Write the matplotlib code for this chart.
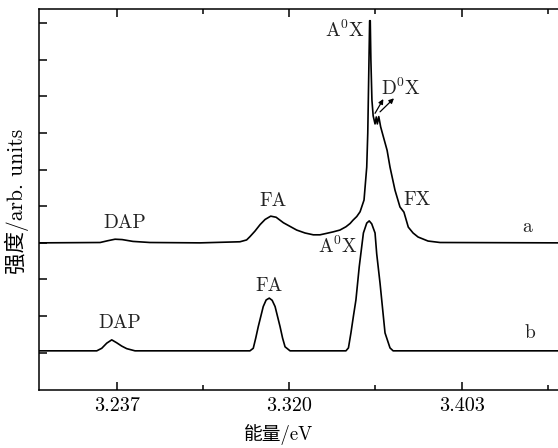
import matplotlib.pyplot as plt
import numpy as np

plt.rcParams['font.family'] = ['cmr10', 'Noto Sans CJK SC']
plt.rcParams['mathtext.fontset'] = 'cm'
plt.rcParams['font.size'] = 14
plt.rcParams['axes.formatter.use_mathtext'] = True

# кривая a (верхний спектр), энергия в эВ и интенсивность в отн. ед.
energy_a = [3.1996, 3.2290, 3.2328, 3.2362, 3.2396, 3.2448, 3.2530, 3.2771,
            3.2963, 3.2995, 3.3011, 3.3035, 3.3060, 3.3084, 3.3111, 3.3137,
            3.3172, 3.3204, 3.3236, 3.3276, 3.3316, 3.3348, 3.3380, 3.3411,
            3.3444, 3.3473, 3.3493, 3.3507, 3.3525, 3.3541, 3.3560, 3.3573,
            3.3578, 3.3582, 3.3587, 3.3590, 3.3593, 3.3598, 3.3604, 3.3613,
            3.3619, 3.3624, 3.3631, 3.3640, 3.3653, 3.3671, 3.3685, 3.3709,
            3.3733, 3.3752, 3.3773, 3.3796, 3.3820, 3.3868, 3.3926, 3.4503]
intensity_a = [4.00, 4.01, 4.06, 4.10, 4.09, 4.04, 4.01, 4.00,
               4.03, 4.08, 4.17, 4.32, 4.50, 4.64, 4.73, 4.70,
               4.55, 4.45, 4.35, 4.27, 4.22, 4.22, 4.26, 4.30,
               4.35, 4.44, 4.53, 4.62, 4.72, 4.85, 5.17, 6.07,
               7.00, 8.37, 10.07, 10.07, 9.00, 7.90, 7.47, 7.25,
               7.44, 7.25, 7.45, 7.17, 6.90, 6.53, 6.07, 5.44,
               4.98, 4.84, 4.43, 4.27, 4.16, 4.05, 4.01, 4.00]

# кривая b (нижний спектр)
energy_b = [3.1996, 3.2274, 3.2298, 3.2322, 3.2346, 3.2370, 3.2394, 3.2418,
            3.2458, 3.3011, 3.3027, 3.3039, 3.3051, 3.3075, 3.3089, 3.3104,
            3.3118, 3.3132, 3.3156, 3.3168, 3.3180, 3.3204, 3.3473, 3.3485,
            3.3497, 3.3509, 3.3521, 3.3537, 3.3557, 3.3573, 3.3585, 3.3597,
            3.3613, 3.3621, 3.3637, 3.3661, 3.3685, 3.3700, 3.4503]
intensity_b = [1.05, 1.05, 1.12, 1.26, 1.35, 1.27, 1.18, 1.11,
               1.05, 1.05, 1.12, 1.40, 1.71, 2.26, 2.44, 2.49,
               2.43, 2.26, 1.71, 1.40, 1.16, 1.05, 1.05, 1.13,
               1.54, 2.00, 2.44, 3.35, 4.27, 4.54, 4.60, 4.52,
               4.27, 3.70, 2.90, 1.54, 1.13, 1.05, 1.05]

x_ticks = [3.237, 3.320, 3.403]
x_tick_labels = ['3.237', '3.320', '3.403']

# подписи пиков: (текст, энергия, интенсивность)
peak_labels = [
    (r'A$^0$X', 3.3466, 9.80),
    (r'D$^0$X', 3.3738, 8.23),
    ('FX', 3.3815, 5.17),
    ('FA', 3.3122, 5.13),
    ('DAP', 3.2411, 4.55),
    (r'A$^0$X', 3.3436, 3.90),
    ('FA', 3.3103, 2.82),
    ('DAP', 3.2383, 1.80),
    ('a', 3.4343, 4.44),
    ('b', 3.4359, 1.53),
]

fig = plt.figure(figsize=(5.58, 4.48), dpi=100)
ax = fig.add_axes([39/558, 1 - 390/448, 521/558, 381/448])

ax.plot(energy_a, intensity_a, color='black', lw=1.2)
ax.plot(energy_b, intensity_b, color='black', lw=1.2)

for txt, ex, iy in peak_labels:
    ax.text(ex, iy, txt, ha='center', va='center', fontsize=14, color='#222222')

# стрелки к D0X
for tail, head in [((3.3613, 7.54), (3.3653, 7.93)), ((3.3637, 7.58), (3.3704, 7.95))]:
    ax.annotate('', xy=head, xytext=tail,
                arrowprops=dict(arrowstyle='-|>', color='black', lw=0.9,
                                mutation_scale=7, shrinkA=0, shrinkB=0))

ax.set_xlim(3.1996, 3.4503)
ax.set_ylim(-0.02, 10.39)

ax.set_xticks(x_ticks)
ax.set_xticklabels(x_tick_labels)
ax.set_xticks([3.2785, 3.3615, 3.4445], minor=True)
ax.set_yticks(np.arange(1, 11))
ax.set_yticklabels([])

ax.tick_params(axis='x', which='major', direction='in', length=6, width=1.1,
               top=True, pad=5, labelsize=14.5)
ax.tick_params(axis='x', which='minor', direction='in', length=3.5, width=1.1, top=True)
ax.tick_params(axis='y', direction='in', length=6, width=1.1)

for s in ax.spines.values():
    s.set_linewidth(1.1)

ax.set_xlabel('能量/eV', fontsize=13.5)
ax.set_ylabel('强度/arb. units', fontsize=15.5)
ax.yaxis.label.set_va('center')
ax.xaxis.label.set_va('center')
ax.yaxis.set_label_coords(-(39 - 16.7) / 521, (390 - 201.5) / 381)
ax.xaxis.set_label_coords((279 - 39) / 521, -(435 - 390) / 381)

fig.savefig('out.png', dpi=100)
